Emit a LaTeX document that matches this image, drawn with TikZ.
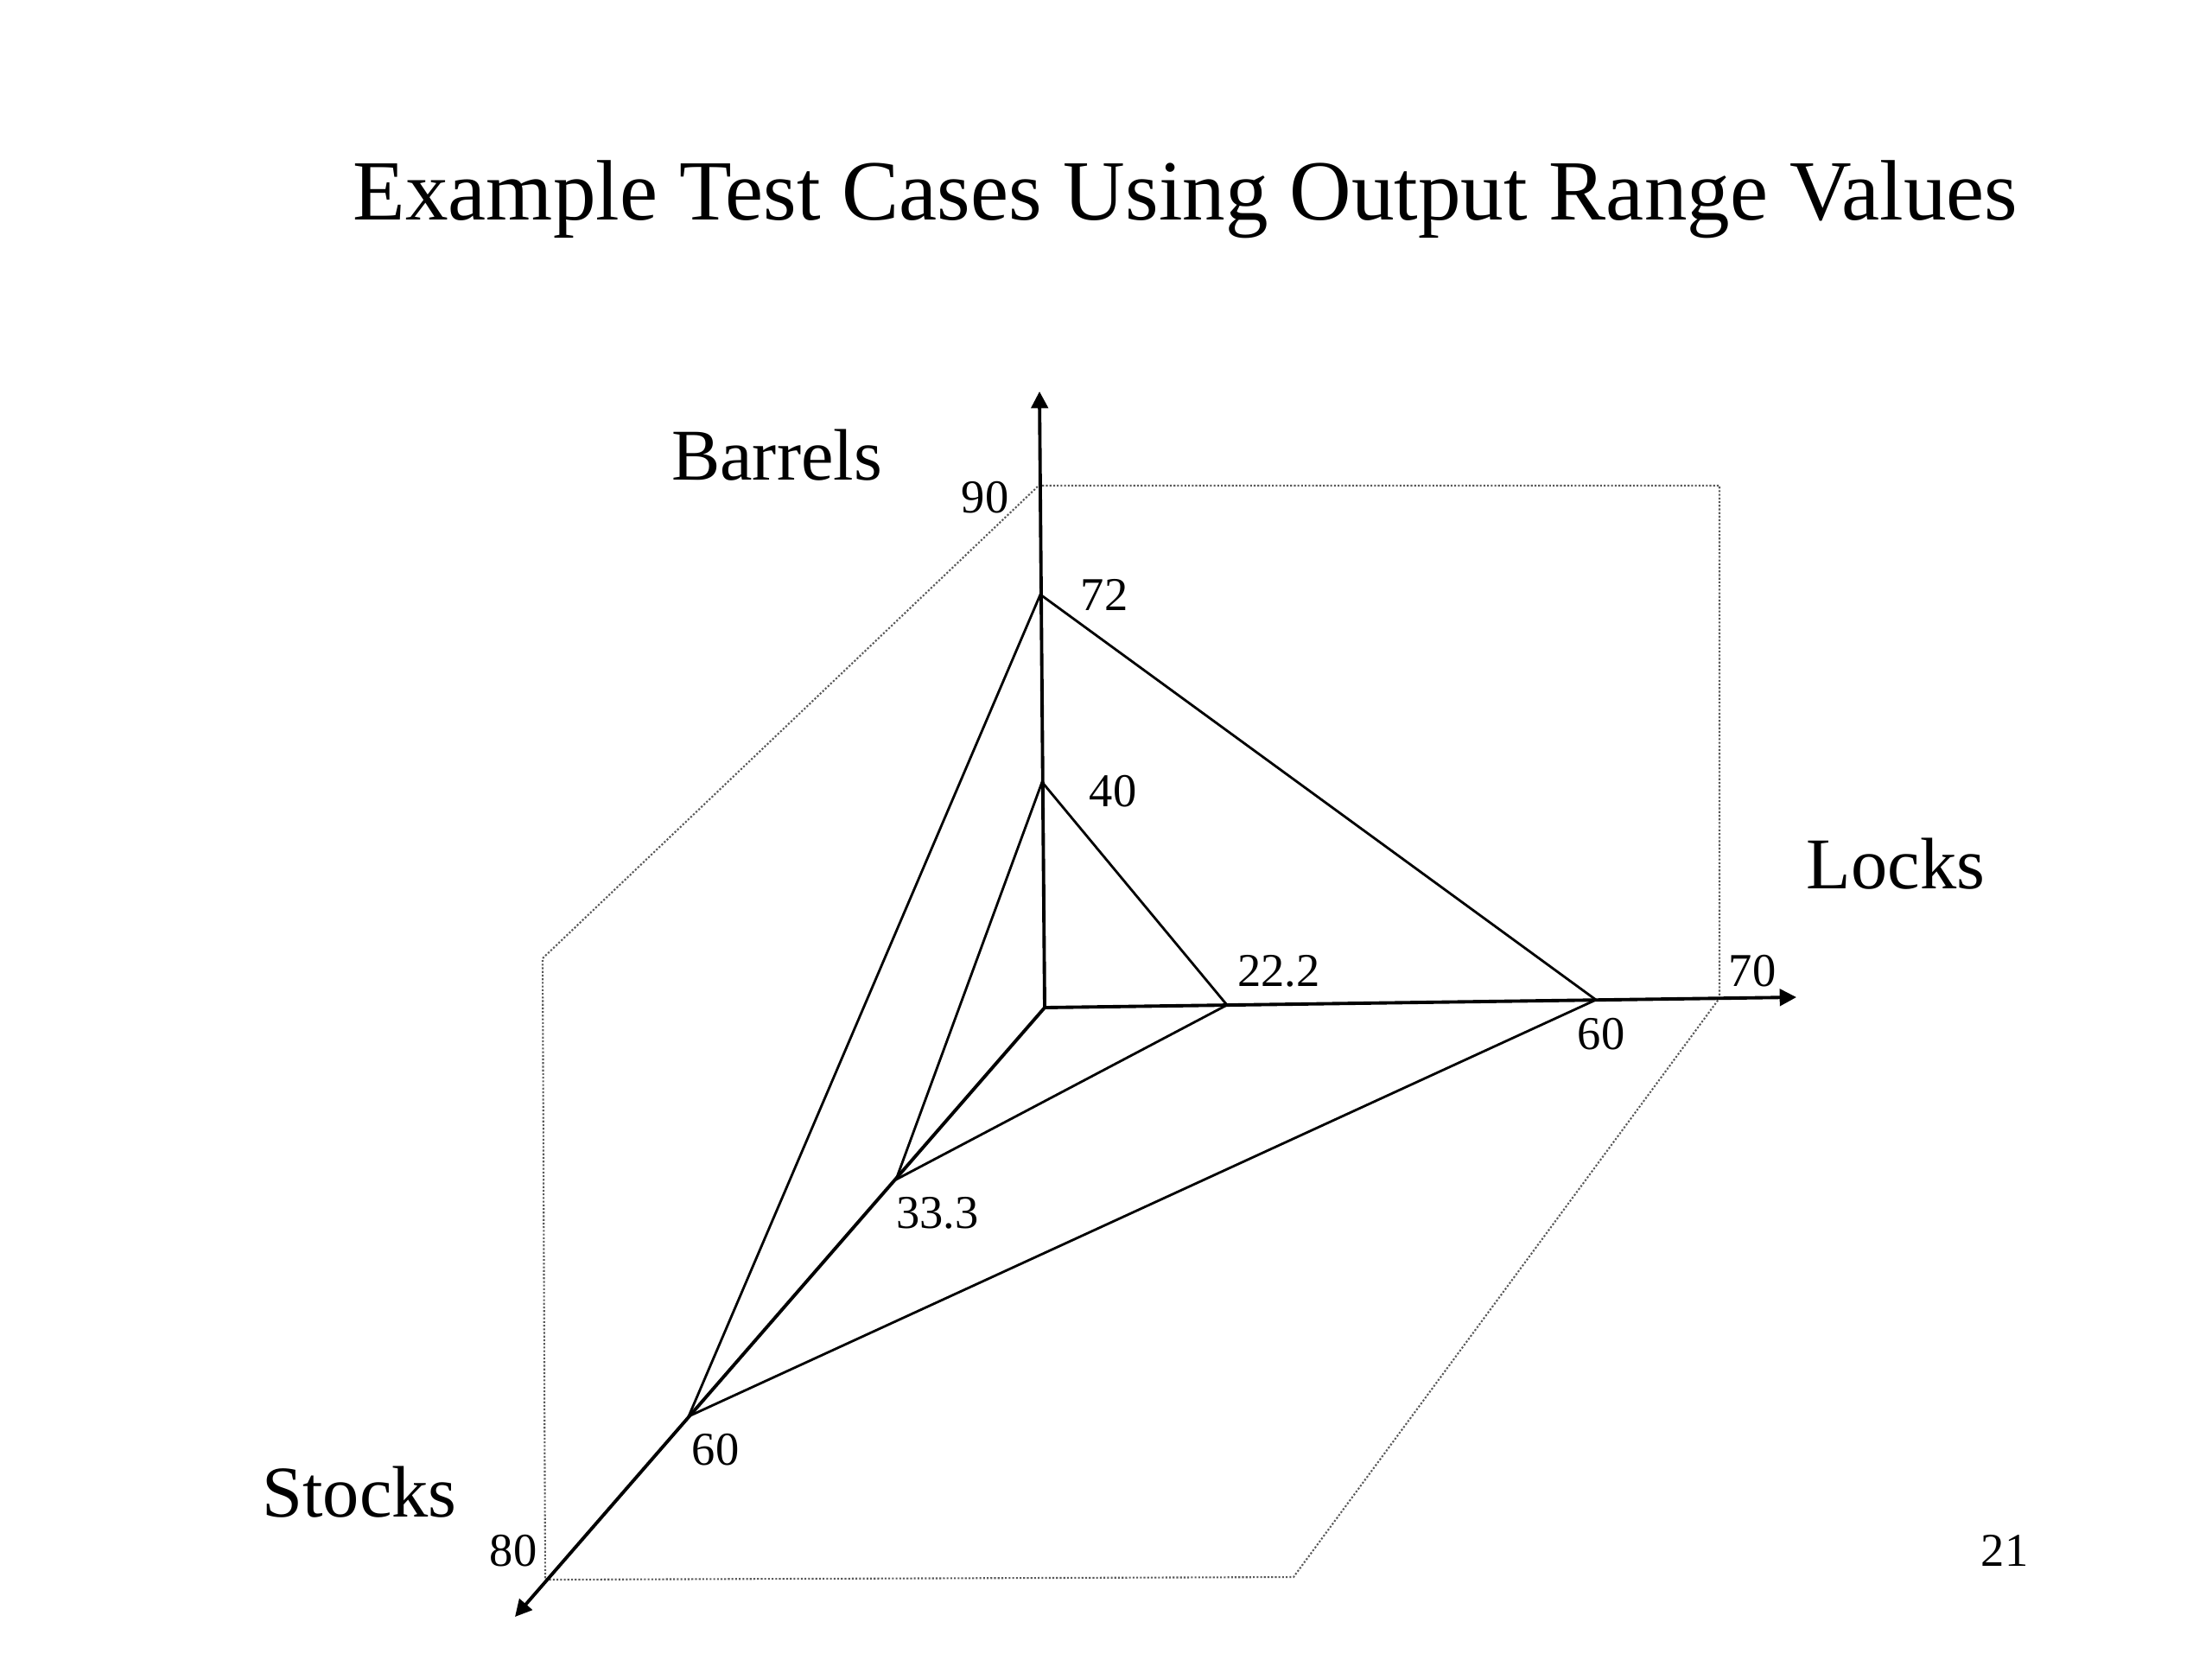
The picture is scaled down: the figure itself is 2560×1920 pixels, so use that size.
\documentclass[tikz,border=0pt]{standalone}
\usepackage{fontspec}
\setmainfont{Liberation Serif}
\usetikzlibrary{positioning,arrows.meta}
\tikzset{
	axisline/.style={line width=1.1pt, -{Triangle[length=5.5pt,width=5.5pt]}},
	caseline/.style={line width=0.8pt},
	rangebox/.style={line width=0.6pt, black!65, dash pattern=on 0.6pt off 0.6pt},
	num/.style={anchor=base, inner sep=0pt, font=\fontsize{15.5}{18}\selectfont},
	axisname/.style={anchor=base, inner sep=0pt, font=\fontsize{24}{28}\selectfont}
}

\begin{document}
\begin{tikzpicture}[x=0.01cm, y=-0.01cm]
			\useasboundingbox (0,0) rectangle (2560,1920);
			\node[anchor=base, inner sep=0pt, font=\fontsize{28.2}{34}\selectfont] (title) at (1372,254) {Example Test Cases Using Output Range Values};
			% axes and points on them
			\coordinate (O) at (1209,1166);
			\coordinate (Btip) at (1203,453);
			\coordinate (B90) at (1202,562);
			\coordinate (B72) at (1204,688);
			\coordinate (B40) at (1206,905);
			\coordinate (Ltip) at (2079,1154);
			\coordinate (L22) at (1420,1163);
			\coordinate (L60) at (1847,1157);
			\coordinate (L70) at (1990,1155);
			\coordinate (Stip) at (596,1871);
			\coordinate (S33) at (1037,1365);
			\coordinate (S60) at (797,1639);
			\coordinate (S80) at (631,1828);
			\coordinate (TR) at (1990,562);
			\coordinate (BR) at (1497,1825);
			\coordinate (LV) at (628,1109);
			\draw[rangebox] (B90) -- (TR) -- (L70) -- (BR) -- (S80) -- (LV) -- cycle;
			\draw[axisline] (O) -- (Btip);
			\draw[axisline] (O) -- (Ltip);
			\draw[axisline] (O) -- (Stip);
			\draw[caseline] (B40) -- (L22) -- (S33) -- cycle;
			\draw[caseline] (B72) -- (L60) -- (S60) -- cycle;
			% labels
			\node[axisname] (barrels) at (899,555) {Barrels};
			\node[axisname] (locks) at (2194,1028) {Locks};
			\node[axisname] (stocks) at (416,1755) {Stocks};
			\node[num] (n90) at (1140,593) {90};
			\node[num] (n72) at (1278,706) {72};
			\node[num] (n40) at (1288,933) {40};
			\node[num] (n22) at (1480,1141) {22.2};
			\node[num] (n70) at (2028,1141) {70};
			\node[num] (nL60) at (1853,1214) {60};
			\node[num] (n33) at (1085,1421) {33.3};
			\node[num] (nS60) at (828,1695) {60};
			\node[num] (n80) at (594,1812) {80};
			\node[num] (page) at (2320,1812) {21};
		\end{tikzpicture}
\end{document}
